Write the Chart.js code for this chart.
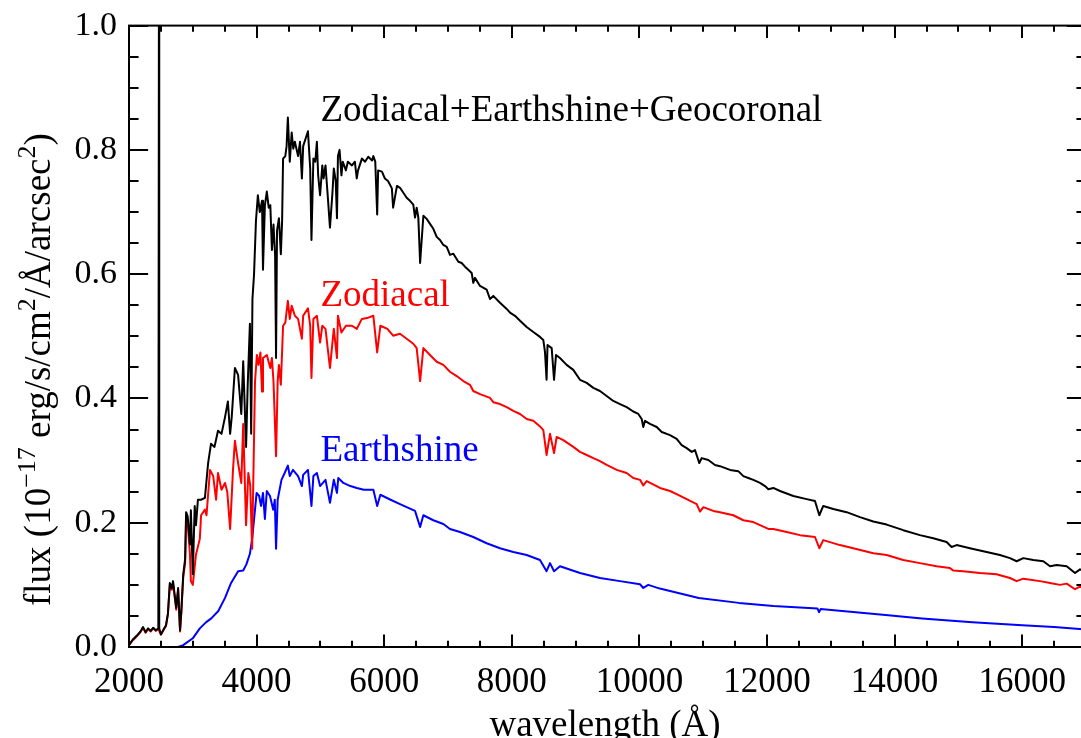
<!DOCTYPE html>
<html>
<head>
<meta charset="utf-8">
<title>Sky background spectrum</title>
<script src="https://cdn.jsdelivr.net/npm/chart.js@4.4.1/dist/chart.umd.min.js"></script>
<style>
  html, body { margin: 0; padding: 0; background: #fff; overflow: hidden; }
  #wrap { width: 1090px; height: 738px; }
</style>
</head>
<body>
<div id="wrap"><canvas id="sky" width="1090" height="738"></canvas></div>
<script>
// wavelength (A) and flux (1e-17 erg/s/cm2/A/arcsec2)
var wlTotal = [2000,2060,2120,2180,2220,2260,2300,2340,2380,2420,2460,2468,2471,2474,2500,2540,2580,2610,2640,2670,2690,2740,2770,2800,2820,2850,2880,2895,2920,2955,2970,3000,3030,3050,3080,3130,3190,3240,3285,3340,3395,3450,3505,3550,3585,3610,3660,3710,3760,3790,3835,3860,3895,3915,3935,3960,3990,4020,4050,4085,4100,4130,4160,4190,4215,4240,4265,4290,4305,4320,4350,4380,4400,4415,4450,4470,4490,4520,4550,4575,4600,4650,4680,4710,4730,4780,4805,4840,4860,4890,4920,4945,4965,4995,5030,5050,5080,5110,5150,5190,5210,5240,5260,5275,5300,5330,5350,5400,5430,5495,5540,5570,5590,5650,5700,5750,5810,5830,5860,5890,5905,5965,6010,6060,6120,6140,6200,
    6248,6300,6352,6404,6456,6483,6509,6535,6563,6614,6666,6718,6770,6823,6875,6927,6980,7031,7084,7162,7214,7266,7318,7371,7396,7423,7502,7606,7658,7710,7815,7920,7972,8050,8129,8233,8337,8442,8494,8520,8545,8560,8625,8662,8693,8755,8860,8964,9069,9174,9278,9382,9487,9591,9696,9800,9904,9983,10036,10061,10088,10166,10271,10350,10480,10584,10663,10741,10820,10871,10939,10976,11080,11185,11263,11420,11550,11629,11707,11786,11890,11969,12021,12099,12204,12413,12622,12752,12820,12882,13039,13248,13457,13666,13875,14136,14397,14606,14815,14893,14972,15180,15442,15651,15808,15913,16017,16174,16331,16436,16540,16697,16828,16906,17000];
var fluxTotal = [0.003,0.012,0.018,0.025,0.032,0.024,0.030,0.026,0.031,0.027,0.030,0.030,1.30,0.030,0.020,0.028,0.035,0.054,0.103,0.095,0.106,0.063,0.095,0.027,0.058,0.117,0.142,0.217,0.210,0.165,0.220,0.117,0.227,0.196,0.237,0.237,0.240,0.296,0.327,0.322,0.348,0.343,0.370,0.395,0.343,0.370,0.449,0.438,0.375,0.460,0.322,0.420,0.520,0.343,0.560,0.600,0.686,0.727,0.700,0.718,0.607,0.711,0.733,0.707,0.711,0.639,0.680,0.630,0.465,0.670,0.690,0.632,0.686,0.786,0.790,0.806,0.852,0.781,0.828,0.802,0.813,0.790,0.813,0.754,0.806,0.822,0.830,0.770,0.655,0.786,0.781,0.813,0.759,0.727,0.775,0.754,0.775,0.733,0.675,0.733,0.770,0.750,0.690,0.790,0.800,0.759,0.781,0.767,0.781,0.775,0.781,0.754,0.767,0.786,0.781,0.789,0.783,0.790,0.781,0.696,0.767,0.765,0.754,0.750,0.738,0.707,0.742,
    0.739,0.731,0.723,0.718,0.712,0.691,0.707,0.691,0.618,0.694,0.689,0.681,0.673,0.660,0.655,0.647,0.644,0.631,0.633,0.620,0.618,0.612,0.607,0.602,0.586,0.594,0.581,0.575,0.560,0.565,0.554,0.544,0.538,0.533,0.525,0.515,0.507,0.499,0.494,0.475,0.430,0.486,0.481,0.430,0.470,0.465,0.454,0.446,0.430,0.425,0.417,0.412,0.404,0.396,0.391,0.386,0.379,0.375,0.367,0.354,0.364,0.359,0.354,0.346,0.341,0.335,0.325,0.320,0.314,0.317,0.296,0.304,0.301,0.293,0.291,0.285,0.283,0.275,0.272,0.269,0.264,0.259,0.254,0.256,0.251,0.243,0.238,0.235,0.212,0.227,0.222,0.217,0.209,0.202,0.197,0.188,0.180,0.175,0.169,0.161,0.164,0.159,0.153,0.148,0.143,0.138,0.143,0.140,0.138,0.130,0.132,0.130,0.119,0.125,0.121];

var wlZodi = [2000,2060,2120,2180,2220,2260,2300,2340,2380,2420,2460,2500,2540,2580,2610,2640,2670,2690,2740,2770,2800,2820,2850,2880,2895,2920,2955,2970,3000,3050,3110,3130,3190,3215,3270,3320,3365,3395,3450,3505,3540,3585,3630,3660,3710,3760,3790,3835,3870,3900,3930,3975,4005,4030,4060,4085,4100,4160,4215,4240,4265,4305,4330,4350,4380,4415,4450,4490,4520,4550,4600,4650,4710,4730,4805,4840,4860,4890,4945,4995,5030,5080,5150,5210,5260,5275,5330,5400,5495,5570,5650,5750,5830,5890,5940,6050,6140,
    6248,6352,6456,6509,6563,6614,6718,6823,6927,7031,7136,7240,7344,7396,7502,7658,7710,7815,7920,8024,8129,8233,8337,8442,8494,8545,8599,8662,8703,8807,8964,9069,9174,9278,9382,9487,9644,9800,9904,10010,10061,10114,10323,10480,10584,10741,10898,10950,11002,11159,11263,11472,11629,11786,11890,12021,12099,12308,12517,12752,12820,12882,13143,13352,13666,13875,14136,14397,14658,14867,14919,15075,15337,15598,15808,15913,16017,16279,16436,16592,16697,16828,16906,17000];
var fluxZodi = [0.003,0.011,0.017,0.024,0.031,0.023,0.029,0.025,0.030,0.026,0.029,0.020,0.027,0.034,0.052,0.100,0.092,0.103,0.060,0.092,0.025,0.055,0.112,0.135,0.205,0.198,0.150,0.106,0.100,0.149,0.174,0.212,0.221,0.212,0.285,0.275,0.237,0.280,0.253,0.264,0.250,0.190,0.285,0.332,0.296,0.264,0.359,0.196,0.280,0.260,0.158,0.427,0.470,0.454,0.474,0.411,0.465,0.470,0.449,0.465,0.427,0.307,0.427,0.454,0.422,0.517,0.522,0.557,0.528,0.549,0.533,0.528,0.496,0.533,0.545,0.517,0.433,0.528,0.533,0.490,0.517,0.512,0.449,0.512,0.465,0.533,0.506,0.517,0.517,0.512,0.528,0.530,0.533,0.474,0.517,0.512,0.501,
    0.504,0.496,0.488,0.481,0.428,0.481,0.470,0.459,0.454,0.443,0.436,0.428,0.422,0.412,0.407,0.401,0.394,0.391,0.386,0.380,0.375,0.367,0.364,0.355,0.349,0.309,0.343,0.312,0.338,0.333,0.322,0.314,0.309,0.304,0.299,0.293,0.285,0.280,0.272,0.269,0.260,0.267,0.256,0.251,0.246,0.238,0.230,0.218,0.225,0.219,0.217,0.212,0.204,0.201,0.196,0.190,0.190,0.185,0.180,0.177,0.159,0.172,0.164,0.159,0.151,0.148,0.140,0.135,0.130,0.127,0.123,0.122,0.119,0.117,0.111,0.106,0.110,0.106,0.103,0.100,0.102,0.093,0.097,0.094];

var wlEarth = [2000,2770,2850,3000,3110,3210,3290,3400,3505,3600,3710,3790,3840,3895,3930,3975,4000,4040,4070,4100,4130,4160,4210,4260,4285,4305,4330,4390,4440,4490,4520,4570,4650,4710,4730,4805,4860,4890,4945,4995,5080,5150,5210,5260,5280,5360,5470,5570,5680,5830,5890,5940,6100,
    6248,6352,6483,6563,6614,6770,6927,7031,7188,7396,7606,7815,8024,8233,8442,8545,8599,8662,8755,9069,9382,9696,10009,10061,10139,10320,10930,11560,12100,12790,12815,12840,13900,14430,15220,16000,16500,17000];
var fluxEarth = [0.000,0.000,0.003,0.014,0.030,0.040,0.046,0.058,0.079,0.103,0.122,0.123,0.133,0.150,0.174,0.221,0.248,0.243,0.227,0.248,0.206,0.251,0.243,0.221,0.237,0.158,0.237,0.269,0.280,0.292,0.275,0.285,0.275,0.259,0.277,0.285,0.227,0.275,0.280,0.259,0.269,0.232,0.269,0.248,0.272,0.264,0.259,0.256,0.253,0.253,0.227,0.245,0.237,
    0.230,0.225,0.219,0.193,0.212,0.204,0.198,0.190,0.185,0.177,0.167,0.159,0.153,0.148,0.140,0.122,0.135,0.122,0.130,0.119,0.111,0.106,0.101,0.095,0.100,0.094,0.079,0.071,0.066,0.062,0.056,0.061,0.051,0.046,0.040,0.035,0.032,0.028];

var xTicks = [2000, 4000, 6000, 8000, 10000, 12000, 14000, 16000];
var yTicks = [0.0, 0.2, 0.4, 0.6, 0.8, 1.0];

var serif = '"Liberation Serif", "Times New Roman", serif';

function toPoints(wl, flux) {
    return wl.map(function(w, i) { return { x: w, y: flux[i] }; });
}

// box around the plot with inward major/minor ticks on all four sides
var frameTicks = {
    id: 'frameTicks',
    afterDatasetsDraw: function(chart) {
        var ctx = chart.ctx, a = chart.chartArea;
        var xs = chart.scales.x, ys = chart.scales.y;
        var xLen = 0.02 * (a.bottom - a.top);
        var yLen = 0.02 * (a.right - a.left);
        ctx.save();
        ctx.strokeStyle = '#000';
        ctx.lineWidth = 2;
        ctx.strokeRect(a.left, a.top, a.right - a.left, a.bottom - a.top);
        ctx.beginPath();
        for (var v = 2000; v <= xs.max; v += 500) {
            var px = Math.round(xs.getPixelForValue(v));
            var len = (v % 2000 === 0) ? xLen : xLen / 2;
            ctx.moveTo(px, a.bottom); ctx.lineTo(px, a.bottom - len);
            ctx.moveTo(px, a.top); ctx.lineTo(px, a.top + len);
        }
        for (var i = 0; i <= 20; i++) {
            var py = Math.round(ys.getPixelForValue(i * 0.05));
            var len2 = (i % 4 === 0) ? yLen : yLen / 2;
            ctx.moveTo(a.left, py); ctx.lineTo(a.left + len2, py);
            ctx.moveTo(a.right, py); ctx.lineTo(a.right - len2, py);
        }
        ctx.stroke();
        ctx.restore();
    }
};

// curve labels and axis titles (the y title needs superscripts)
var labelsText = {
    id: 'labelsText',
    afterDraw: function(chart) {
        var ctx = chart.ctx, a = chart.chartArea;
        var xs = chart.scales.x, ys = chart.scales.y;
        ctx.save();
        ctx.textBaseline = 'alphabetic';
        ctx.textAlign = 'left';
        ctx.font = '37px ' + serif;
        var notes = [['Zodiacal+Earthshine+Geocoronal', '#000000', 0.846],
                     ['Zodiacal', '#ff0000', 0.549],
                     ['Earthshine', '#0000ff', 0.299]];
        notes.forEach(function(n) {
            ctx.fillStyle = n[1];
            ctx.fillText(n[0], xs.getPixelForValue(5000), ys.getPixelForValue(n[2]));
        });

        ctx.fillStyle = '#000';
        ctx.textAlign = 'center';
        ctx.fillText('wavelength (\u00c5)', (a.left + 1081) / 2, 736);

        var parts = [['flux (10', 0], ['\u221217', 1], [' erg/s/cm', 0], ['2', 1],
                     ['/\u00c5/arcsec', 0], ['2', 1], [')', 0]];
        ctx.translate(50, 606);
        ctx.rotate(-Math.PI / 2);
        ctx.textAlign = 'left';
        var x = 0;
        parts.forEach(function(p) {
            ctx.font = (p[1] ? '26px ' : '37px ') + serif;
            ctx.fillText(p[0], x, p[1] ? -15 : 0);
            x += ctx.measureText(p[0]).width;
        });
        ctx.restore();
    }
};

var ctx = document.getElementById('sky').getContext('2d');
var chart = new Chart(ctx, {
    type: 'line',
    data: {
        datasets: [{
            label: 'Zodiacal+Earthshine+Geocoronal',
            data: toPoints(wlTotal, fluxTotal),
            borderColor: '#000000',
            order: 0
        }, {
            label: 'Zodiacal',
            data: toPoints(wlZodi, fluxZodi),
            borderColor: '#ff0000',
            order: 1
        }, {
            label: 'Earthshine',
            data: toPoints(wlEarth, fluxEarth),
            borderColor: '#0000ff',
            order: 2
        }]
    },
    options: {
        responsive: false,
        animation: false,
        layout: { padding: { top: 15, right: 4, left: 0, bottom: 0 } },
        elements: {
            point: { radius: 0 },
            line: { borderWidth: 2, tension: 0, borderJoinStyle: 'round', fill: false }
        },
        plugins: {
            legend: { display: false },
            tooltip: { enabled: false }
        },
        scales: {
            x: {
                type: 'linear',
                min: 2000,
                max: 17000,
                afterBuildTicks: function(scale) {
                    scale.ticks = xTicks.map(function(v) { return { value: v }; });
                },
                afterFit: function(scale) { scale.height = 91; },
                grid: { display: false, drawTicks: false },
                border: { display: false },
                ticks: {
                    autoSkip: false,
                    maxRotation: 0,
                    padding: 15,
                    color: '#000',
                    font: { family: serif, size: 35 },
                    callback: function(value) { return String(value); }
                }
            },
            y: {
                min: 0,
                max: 1,
                afterBuildTicks: function(scale) {
                    scale.ticks = yTicks.map(function(v) { return { value: v }; });
                },
                afterFit: function(scale) { scale.width = 129; },
                grid: { display: false, drawTicks: false },
                border: { display: false },
                ticks: {
                    padding: 12,
                    color: '#000',
                    font: { family: serif, size: 34, lineHeight: 0.8 },
                    callback: function(value) { return value.toFixed(1); }
                }
            }
        }
    },
    plugins: [frameTicks, labelsText]
});
</script>
</body>
</html>
